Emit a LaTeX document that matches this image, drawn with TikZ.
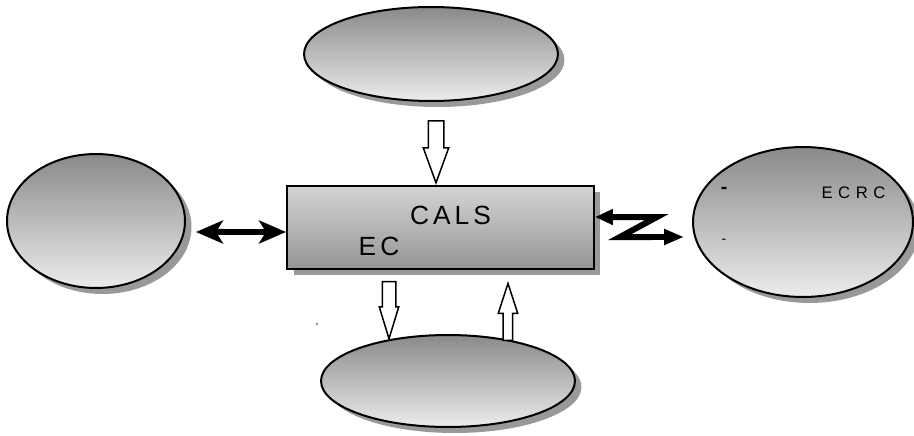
\documentclass[tikz,border=0pt]{standalone}
\usepackage{fontspec}
\setmainfont{Liberation Sans}
\newfontfamily\spacedfont[LetterSpace=15]{Liberation Sans}
\newfontfamily\widefont[LetterSpace=33]{Liberation Sans}
\usetikzlibrary{shapes.geometric,shapes.arrows,shadows,arrows.meta}

\definecolor{bubbletop}{RGB}{138,138,138}
\definecolor{bubblebottom}{RGB}{236,236,236}
\definecolor{boxtop}{RGB}{212,212,212}
\definecolor{boxbottom}{RGB}{149,149,149}
\definecolor{shadowgray}{RGB}{153,153,153}

\tikzset{
  softshadow/.style={drop shadow={shadow xshift=0.13cm, shadow yshift=-0.12cm, fill=shadowgray, opacity=1}},
  bubble/.style={ellipse, draw=black, line width=0.04cm, inner sep=0pt,
    top color=bubbletop, bottom color=bubblebottom, softshadow},
  mainbox/.style={rectangle, draw=black, line width=0.04cm, inner sep=0pt,
    top color=boxtop, bottom color=boxbottom, softshadow,
    minimum width=6.14cm, minimum height=1.66cm},
  hollowarrow/.style={single arrow, draw=black, fill=white, line width=0.03cm,
    inner sep=0pt, text width=0pt, text depth=0pt, single arrow head indent=0pt},
  blackarrow/.style={line width=0.12cm,
    {Stealth[length=0.54cm,width=0.46cm,inset=0.14cm]}-{Stealth[length=0.54cm,width=0.46cm,inset=0.14cm]}},
  zarrow/.style={line width=0.12cm, line join=miter,
    {Triangle[length=0.36cm,width=0.3cm]}-{Triangle[length=0.4cm,width=0.3cm]}},
  bigtext/.style={inner sep=0pt, font=\spacedfont\fontsize{15pt}{17pt}\selectfont},
  smalltext/.style={inner sep=0pt, font=\widefont\fontsize{9.5pt}{11pt}\selectfont}
}

\begin{document}
\begin{tikzpicture}[x=0.02cm,y=-0.02cm]
  \useasboundingbox (0,0) rectangle (914,436);

  % Bubbles
  \node[bubble, minimum width=5.08cm, minimum height=1.88cm] (topbubble) at (431,54) {};
  \node[bubble, minimum width=3.56cm, minimum height=2.68cm] (leftbubble) at (96,221) {};
  \node[bubble, minimum width=4.4cm, minimum height=3.0cm] (rightbubble) at (803,222) {};
  \node[bubble, minimum width=5.08cm, minimum height=1.84cm] (bottombubble) at (448,381) {};

  % Central box
  \node[mainbox] (box) at (440.5,227.5) {};
  \node[bigtext] (cals) at (450.5,215.5) {CALS};
  \node[bigtext] (ec) at (379,246.5) {EC};

  % Texts in the right bubble
  \node[smalltext] (ecrc) at (853.5,193) {ECRC};
  \node[inner sep=0pt, font=\fontsize{11pt}{12pt}\selectfont\bfseries] (dashone) at (724,190) {-};
  \node[inner sep=0pt, font=\fontsize{8pt}{10pt}\selectfont] (dashtwo) at (724,241) {-};
  \node[inner sep=0pt, font=\fontsize{6pt}{7pt}\selectfont] (comma) at (317,325) {,};

  % Hollow arrows
  \node[hollowarrow, rotate=-90, anchor=tip, text height=0.28cm,
    minimum height=1.24cm, single arrow head extend=0.1cm,
    single arrow tip angle=40] (topin) at ([xshift=-0.09cm]box.north) {};
  \node[hollowarrow, rotate=-90, anchor=tail, text height=0.24cm,
    minimum height=1.14cm, single arrow head extend=0.06cm,
    single arrow tip angle=34] (downout) at ([xshift=-1.03cm,yshift=-0.22cm]box.south) {};
  \node[hollowarrow, rotate=90, anchor=tip, text height=0.16cm,
    minimum height=1.14cm, single arrow head extend=0.1cm,
    single arrow tip angle=36] (upin) at ([xshift=1.35cm,yshift=-0.22cm]box.south) {};

  % Black arrows
  \draw[blackarrow] ([xshift=0.2cm,yshift=-0.22cm]leftbubble.east) -- ([yshift=-0.09cm]box.west);
  \draw[zarrow] ([yshift=0.21cm]box.east) -- ++(62,0) -- ++(-37,20)
    -- ([xshift=-0.16cm,yshift=-0.3cm]rightbubble.west);
\end{tikzpicture}
\end{document}
